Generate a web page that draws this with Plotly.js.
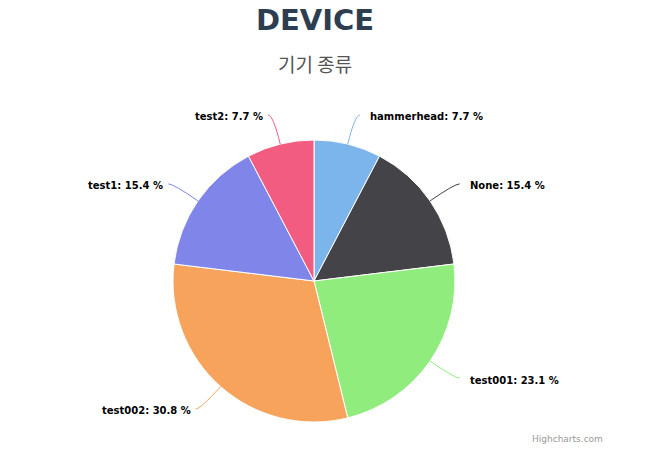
<!DOCTYPE html>
<html>
<head>
<meta charset="utf-8">
<script src="https://cdn.plot.ly/plotly-3.0.1.min.js"></script>
<style>html,body{margin:0;padding:0;background:#fff;}#chart{width:672px;height:464px;}</style>
</head>
<body>
<div id="chart"></div>
<script>
var categories = ['hammerhead', 'None', 'test001', 'test002', 'test1', 'test2'];
var shares = [7.7, 15.4, 23.1, 30.8, 15.4, 7.7];
var colors = ['#7cb5ec', '#434348', '#90ed7d', '#f7a35c', '#8085e9', '#f15c80'];

var W = 672, H = 464;
var cx = 314, cy = 281, R = 141, dist = 30;

var total = shares.reduce(function(a, b){ return a + b; }, 0);
var annotations = [], shapes = [];
var cum = 0;
function px(x){ return x / W; }
function py(y){ return 1 - y / H; }
for (var i = 0; i < shares.length; i++) {
  var mid = (cum + shares[i] / 2) / total * 2 * Math.PI;
  cum += shares[i];
  var s = Math.sin(mid), c = Math.cos(mid);
  var ex = cx + R * s, ey = cy - R * c;
  var lx = cx + (R + dist) * s, ly = cy - (R + dist) * c;
  var right = s >= 0;
  var endX = right ? lx + 5 : lx - 5;
  var path = 'M ' + px(ex) + ' ' + py(ey) + ' Q ' + px(lx) + ' ' + py(ly) + ' ' + px(endX) + ' ' + py(ly);
  shapes.push({type: 'path', xref: 'paper', yref: 'paper', path: path,
    line: {color: colors[i], width: 1}});
  annotations.push({
    xref: 'paper', yref: 'paper', x: px(right ? endX + 8 : endX - 3), y: py(ly + 2),
    xanchor: right ? 'left' : 'right', yanchor: 'middle', showarrow: false,
    text: '<b>' + categories[i] + ': ' + shares[i].toFixed(1) + ' %</b>',
    font: {family: 'DejaVu Sans, Verdana, sans-serif', size: 10, color: '#000000'}
  });
}

annotations.push({
  xref: 'paper', yref: 'paper', x: px(315), y: py(63), xanchor: 'center', yanchor: 'middle',
  showarrow: false, text: '기기 종류',
  font: {family: 'Noto Sans CJK KR, sans-serif', size: 19, color: '#555555'}
});
annotations.push({
  xref: 'paper', yref: 'paper', x: px(605), y: py(439), xanchor: 'right', yanchor: 'middle',
  showarrow: false, text: 'Highcharts.com',
  font: {family: 'DejaVu Sans, Verdana, sans-serif', size: 9, color: '#999999'}
});

var trace = {
  type: 'pie',
  labels: categories,
  values: shares,
  sort: false,
  direction: 'clockwise',
  rotation: 0,
  marker: {colors: colors, line: {color: '#ffffff', width: 1}},
  textinfo: 'none',
  hoverinfo: 'none',
  showlegend: false,
  domain: {x: [(cx - R) / W, (cx + R) / W], y: [(H - cy - R) / H, (H - cy + R) / H]}
};

var layout = {
  width: W, height: H,
  margin: {l: 0, r: 0, t: 0, b: 0},
  paper_bgcolor: '#ffffff',
  showlegend: false,
  title: {text: '<b>DEVICE</b>', x: px(315), xanchor: 'center', xref: 'paper',
    y: py(20), yref: 'container', yanchor: 'middle',
    font: {family: 'DejaVu Sans, sans-serif', size: 29, color: '#2c3e50'}},
  annotations: annotations,
  shapes: shapes
};

Plotly.newPlot('chart', [trace], layout, {displayModeBar: false, staticPlot: true});
</script>
</body>
</html>
